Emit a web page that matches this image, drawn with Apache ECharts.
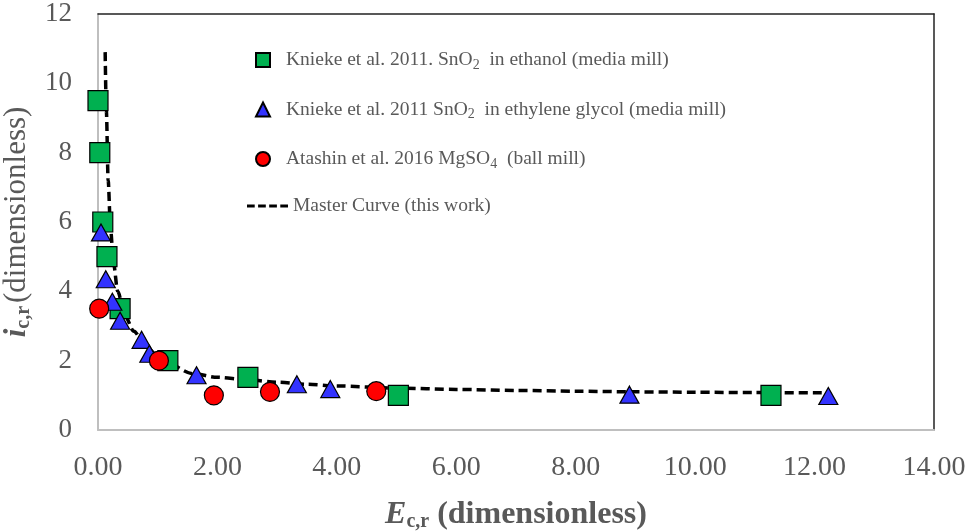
<!DOCTYPE html>
<html>
<head>
<meta charset="utf-8">
<script src="https://cdn.jsdelivr.net/npm/echarts@6/dist/echarts.min.js"></script>
<style>html,body{margin:0;padding:0;background:#fff;}#c{width:976px;height:531px;}</style>
</head>
<body>
<div id="c"></div>
<script>
var seriesNames = [
  'Knieke et al. 2011. SnO2  in ethanol (media mill)',
  'Knieke et al. 2011 SnO2  in ethylene glycol (media mill)',
  'Atashin et al. 2016 MgSO4  (ball mill)',
  'Master Curve (this work)'
];
var legendRich = [
  'Knieke et al. 2011. SnO{sub|2}  in ethanol (media mill)',
  'Knieke et al. 2011 SnO{sub|2}  in ethylene glycol (media mill)',
  'Atashin et al. 2016 MgSO{sub|4}  (ball mill)',
  'Master Curve (this work)'
];
var ethanolData = [[0.00,9.5],[0.03,8.0],[0.08,6.0],[0.15,5.0],[0.37,3.5],[1.17,2.0],[2.51,1.52],[5.03,1.0],[11.27,1.0]];
var glycolData = [[0.05,5.7],[0.13,4.35],[0.24,3.7],[0.37,3.15],[0.73,2.6],[0.86,2.2],[1.65,1.58],[3.33,1.32],[3.89,1.18],[8.9,1.02],[12.23,0.98]];
var mgso4Data = [[0.02,3.5],[1.02,2.0],[1.94,1.0],[2.88,1.1],[4.66,1.12]];
var masterCurve = [[0.12,10.9],[0.14,9.2],[0.17,7.2],[0.21,5.8],[0.26,4.8],[0.33,4.0],[0.45,3.3],[0.6,2.85],[0.8,2.4],[1.09,1.98],[1.6,1.62],[2.0,1.52],[2.5,1.45],[3.0,1.38],[3.5,1.32],[4.0,1.27],[5.0,1.21],[6.0,1.17],[7.0,1.14],[8.0,1.12],[9.0,1.1],[10.0,1.09],[11.0,1.08],[12.23,1.07]];
var xTicks = {min:0, max:14, interval:2};
var yTicks = {min:0, max:12, interval:2};

var gray = '#595959';
var font = '"Liberation Serif", "Times New Roman", serif';
var legendText = {fontFamily: font, fontSize: 19.5, color: gray, padding: [0,0,0,11],
  rich: {sub: {fontFamily: font, fontSize: 14, color: gray, verticalAlign: 'bottom', padding: [10,0,0,0]}}};
var chart = echarts.init(document.getElementById('c'));
chart.setOption({
  animation: false,
  backgroundColor: '#fff',
  grid: {left: 98, right: 42, top: 14, bottom: 101, outerBoundsMode: 'none', containLabel: false},
  legend: [{
    orient: 'vertical', left: 250, top: 45, itemWidth: 14, itemHeight: 14, itemGap: 27.5,
    data: seriesNames.slice(0,3),
    formatter: function(n){ return legendRich[seriesNames.indexOf(n)]; },
    textStyle: legendText
  },{
    orient: 'vertical', left: 242, top: 191, itemWidth: 41, itemHeight: 3,
    data: [{name: seriesNames[3], icon: 'path://M0,0h8v3h-8zM11.5,0h8v3h-8zM23,0h8v3h-8zM34.5,0h8v3h-8z'}],
    formatter: function(n){ return legendRich[seriesNames.indexOf(n)]; },
    textStyle: {fontFamily: font, fontSize: 19.5, color: gray}
  }],
  xAxis: [{
    type: 'value', min: xTicks.min, max: xTicks.max, interval: xTicks.interval,
    axisLine: {show: true, onZero: false, lineStyle: {color: '#BFBFBF', width: 2}},
    axisTick: {show: false}, splitLine: {show: false},
    axisLabel: {fontFamily: font, fontSize: 28, color: gray, margin: 24, formatter: function(v){return v.toFixed(2);}},
    name: '{e|E}{s|c,r}{n| (dimensionless)}', nameLocation: 'middle', nameGap: 68,
    nameTextStyle: {rich: {
      e: {fontFamily: font, fontSize: 32, fontWeight: 'bold', fontStyle: 'italic', color: gray},
      s: {fontFamily: font, fontSize: 20, fontWeight: 'bold', color: gray, verticalAlign: 'bottom', padding: [14,0,0,0]},
      n: {fontFamily: font, fontSize: 32, fontWeight: 'bold', color: gray}}}
  },{
    type: 'value', position: 'top', min: xTicks.min, max: xTicks.max,
    axisLine: {show: true, onZero: false, lineStyle: {color: '#222', width: 1.5}},
    axisTick: {show: false}, axisLabel: {show: false}, splitLine: {show: false}
  }],
  yAxis: [{
    type: 'value', min: yTicks.min, max: yTicks.max, interval: yTicks.interval,
    axisLine: {show: true, onZero: false, lineStyle: {color: '#BFBFBF', width: 2}},
    axisTick: {show: false}, splitLine: {show: false},
    axisLabel: {fontFamily: font, fontSize: 27, color: gray, margin: 26},
    name: '{i|i}{s|c,r}{n|(dimensionless)}', nameLocation: 'middle', nameGap: 40, nameRotate: 90,
    nameTextStyle: {rich: {
      i: {fontFamily: font, fontSize: 31, fontWeight: 'bold', fontStyle: 'italic', color: gray},
      s: {fontFamily: font, fontSize: 20, fontWeight: 'bold', color: gray, verticalAlign: 'bottom', padding: [14,3,0,0]},
      n: {fontFamily: font, fontSize: 31, color: gray}}}
  },{
    type: 'value', position: 'right', min: yTicks.min, max: yTicks.max,
    axisLine: {show: true, onZero: false, lineStyle: {color: '#222', width: 1.5}},
    axisTick: {show: false}, axisLabel: {show: false}, splitLine: {show: false}
  }],
  series: [
    {name: seriesNames[3], type: 'line', data: masterCurve, symbol: 'none', smooth: 0.3, smoothMonotone: 'x', z: 1,
      lineStyle: {color: '#000', width: 3.5, type: [9,5]}, itemStyle: {color: '#000'}},
    {name: seriesNames[0], type: 'scatter', data: ethanolData, symbol: 'rect', symbolSize: 20, z: 3,
      itemStyle: {color: '#00B050', borderColor: '#000', borderWidth: 1.2, opacity: 1}},
    {name: seriesNames[1], type: 'scatter', data: glycolData, symbol: 'triangle', symbolSize: [19,17], z: 4,
      itemStyle: {color: '#3333FF', borderColor: '#000', borderWidth: 1.2, opacity: 1}},
    {name: seriesNames[2], type: 'scatter', data: mgso4Data, symbol: 'circle', symbolSize: 19, z: 5,
      itemStyle: {color: '#FF0000', borderColor: '#000', borderWidth: 1.2, opacity: 1}}
  ]
});
</script>
</body>
</html>
